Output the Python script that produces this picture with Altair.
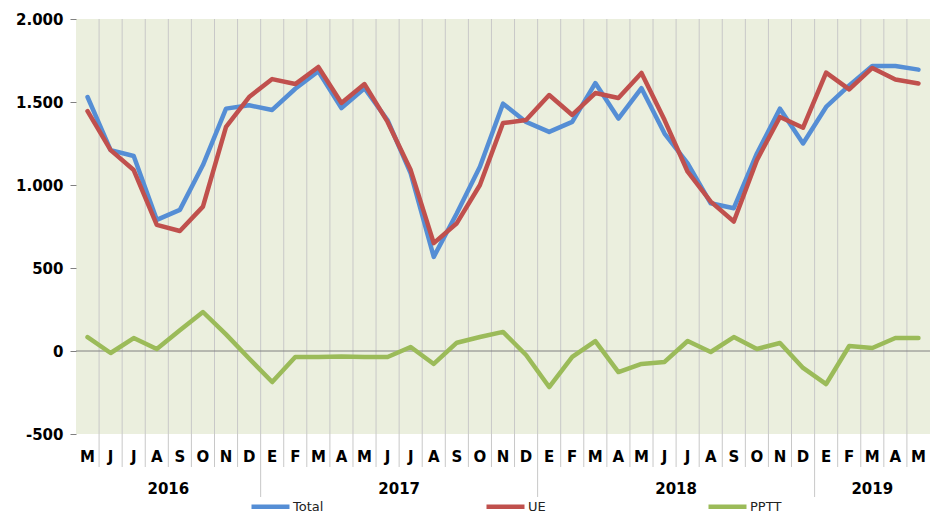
import altair as alt
import pandas as pd

months = ["M", "J", "J", "A", "S", "O", "N", "D",
          "E", "F", "M", "A", "M", "J", "J", "A", "S", "O", "N", "D",
          "E", "F", "M", "A", "M", "J", "J", "A", "S", "O", "N", "D",
          "E", "F", "M", "A", "M"]
years = ["2016", "2017", "2018", "2019"]
year_months = [8, 12, 12, 5]

total = [1530, 1210, 1175, 790, 850, 1120, 1460, 1480, 1452, 1580, 1685, 1463,
         1583, 1390, 1070, 567, 830, 1110, 1490, 1380, 1320, 1380, 1614, 1400,
         1583, 1310, 1130, 890, 860, 1190, 1460, 1250, 1470, 1600, 1717, 1717, 1695]
ue = [1445, 1210, 1090, 760, 723, 870, 1350, 1530, 1638, 1608, 1711, 1494,
      1608, 1380, 1090, 650, 770, 1000, 1373, 1391, 1542, 1422, 1554, 1524,
      1675, 1391, 1080, 900, 780, 1150, 1410, 1345, 1677, 1576, 1705, 1636, 1612]
pptt = [84, -12, 78, 12, 125, 235, 100, -45, -187, -36, -36, -33,
        -36, -36, 24, -78, 50, 84, 115, -24, -217, -36, 60, -127,
        -78, -66, 60, -6, 84, 12, 48, -102, -199, 30, 18, 78, 78]

series_names = ["Total", "UE", "PPTT"]
series_colors = ["#558ED5", "#C0504D", "#9BBB59"]

W, H = 854, 415
n = len(months)

rows = []
for name, vals in zip(series_names, [total, ue, pptt]):
    for i, v in enumerate(vals):
        rows.append({"pos": i + 0.5, "value": v, "serie": name, "k": i})
lines_df = pd.DataFrame(rows)

month_df = pd.DataFrame({"pos": [i + 0.5 for i in range(n)], "label": months})

starts = []
s = 0
for m in year_months:
    starts.append(s)
    s += m
year_df = pd.DataFrame({"pos": [st + m / 2 for st, m in zip(starts, year_months)],
                        "label": years})
year_bounds = starts[1:]
month_bounds = [b for b in range(1, n) if b not in year_bounds]
grid_df = pd.DataFrame({"pos": month_bounds})
ygrid_df = pd.DataFrame({"pos": year_bounds})
zero_df = pd.DataFrame({"v": [0]})

xscale = alt.Scale(domain=[0, n], nice=False, zero=False)
yscale = alt.Scale(domain=[-500, 2000], nice=False)

grid = alt.Chart(grid_df).mark_rule(color="#C8C8C8", strokeWidth=1).encode(
    x=alt.X("pos:Q", scale=xscale, axis=None),
    y=alt.value(0), y2=alt.value(H + 33))
ygrid = alt.Chart(ygrid_df).mark_rule(color="#C8C8C8", strokeWidth=1).encode(
    x=alt.X("pos:Q", scale=xscale, axis=None),
    y=alt.value(0), y2=alt.value(H + 63))
zero = alt.Chart(zero_df).mark_rule(color="#808080", strokeWidth=1).encode(
    y=alt.Y("v:Q", scale=yscale),
    x=alt.value(0), x2=alt.value(W))

lines = alt.Chart(lines_df).mark_line(strokeWidth=4.5, strokeJoin="round", strokeCap="round").encode(
    x=alt.X("pos:Q", scale=xscale, axis=None),
    y=alt.Y("value:Q", scale=yscale, title=None,
            axis=alt.Axis(values=[-500, 0, 500, 1000, 1500, 2000],
                          labelExpr="replace(replace(format(datum.value, ','), ',', '.'), '\u2212', '-')",
                          domain=False, grid=False, tickSize=6, tickColor="#808080",
                          labelPadding=7, labelFont="DejaVu Sans", labelFontSize=15,
                          labelFontWeight="bold", labelColor="#000000")),
    color=alt.Color("serie:N",
                    scale=alt.Scale(domain=series_names, range=series_colors),
                    legend=alt.Legend(title=None, orient="none", direction="horizontal",
                                      legendX=173, legendY=466, symbolType="stroke",
                                      symbolSize=1444, symbolStrokeWidth=4.5,
                                      labelFont="DejaVu Sans", labelFontSize=13,
                                      labelColor="#222222", labelOffset=1,
                                      columnPadding=153, padding=0)),
    order=alt.Order("k:Q"))

mtext = alt.Chart(month_df).mark_text(font="DejaVu Sans", fontSize=15, fontWeight="bold",
                                      color="#000000", baseline="middle").encode(
    x=alt.X("pos:Q", scale=xscale, axis=None),
    y=alt.value(H + 23), text="label:N")
ytext = alt.Chart(year_df).mark_text(font="DejaVu Sans", fontSize=15, fontWeight="bold",
                                     color="#000000", baseline="middle").encode(
    x=alt.X("pos:Q", scale=xscale, axis=None),
    y=alt.value(H + 55), text="label:N")

chart = alt.layer(grid, ygrid, zero, lines, mtext, ytext).properties(
    width=W, height=H,
    autosize=alt.AutoSizeParams(type="none"),
    padding={"left": 68, "top": 11, "right": 0, "bottom": 82},
    background="#FFFFFF",
).configure_view(fill="#EBEFDE", stroke=None)

chart.save("out.html", embed_options={"renderer": "svg", "actions": False})
